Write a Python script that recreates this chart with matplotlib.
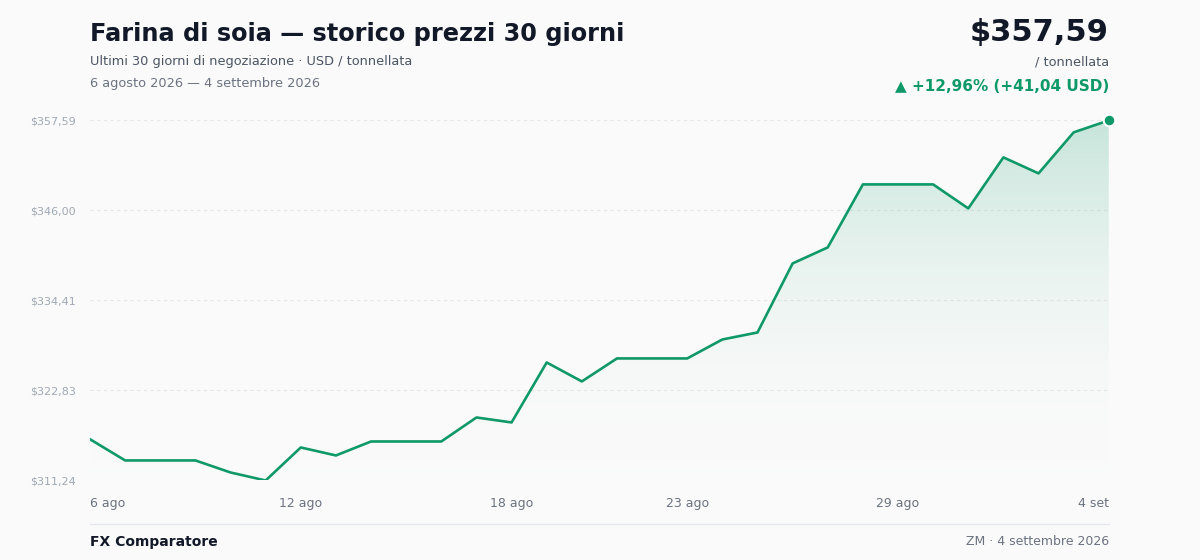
import numpy as np
import matplotlib.pyplot as plt
from matplotlib.colors import LinearSegmentedColormap

prices = [316.55, 313.82, 313.82, 313.82, 312.27, 311.24, 315.49, 314.46, 316.26, 316.26,
          316.26, 319.35, 318.71, 326.43, 323.99, 326.95, 326.95, 326.95, 329.39, 330.29,
          339.18, 341.24, 349.35, 349.35, 349.35, 346.26, 352.83, 350.77, 356.05, 357.59]
tick_idx = [0, 6, 12, 17, 23, 29]
tick_labels = ["6 ago", "12 ago", "18 ago", "23 ago", "29 ago", "4 set"]
y_ticks = [311.24, 322.83, 334.41, 346.00, 357.59]

green = "#0f9968"
bg = "#fafafa"

fig = plt.figure(figsize=(12, 5.6), dpi=100, facecolor=bg)
ax = fig.add_axes([0.075, 0.142, 0.849, 0.643], facecolor=bg)
x = np.arange(len(prices))
ymin, ymax = y_ticks[0], y_ticks[-1]
ax.set_xlim(0, len(prices) - 1)
ax.set_ylim(ymin, ymax)

# gradient fill under the line
grad = LinearSegmentedColormap.from_list("g", [(1, 1, 1, 0), (0.06, 0.6, 0.41, 0.22)])
im = ax.imshow(np.linspace(0.05, 1, 256).reshape(-1, 1), cmap=grad, aspect="auto",
               extent=[0, len(prices) - 1, ymin, ymax], origin="lower", zorder=1)
poly = ax.fill_between(x, prices, ymin, color="none")
im.set_clip_path(poly.get_paths()[0], transform=ax.transData)

ax.plot(x, prices, color=green, lw=1.9, zorder=3)
ax.scatter([x[-1]], [prices[-1]], s=70, color=green, edgecolor="white", lw=1.5, zorder=4, clip_on=False)

for v in y_ticks:
    ax.axhline(v, color="#e6e6e6", lw=0.8, ls=(0, (3, 3)), zorder=0)
ax.set_yticks(y_ticks)
ax.set_yticklabels(["$" + f"{v:.2f}".replace(".", ",") for v in y_ticks], fontsize=8, color="#a0a8b4")
ax.tick_params(axis="y", length=0, pad=10)
ax.set_xticks(tick_idx)
ax.set_xticklabels(tick_labels, fontsize=9, color="#6b7280")
ax.tick_params(axis="x", length=0, pad=12)
xl = ax.get_xticklabels()
xl[0].set_horizontalalignment("left")
xl[-1].set_horizontalalignment("right")
for s in ax.spines.values():
    s.set_visible(False)

fig.text(0.075, 0.94, "Farina di soia — storico prezzi 30 giorni", fontsize=17.3, fontweight="bold", color="#111827", va="center")
fig.text(0.075, 0.89, "Ultimi 30 giorni di negoziazione · USD / tonnellata", fontsize=9.3, color="#4b5563", va="center")
fig.text(0.075, 0.851, "6 agosto 2026 — 4 settembre 2026", fontsize=9.3, color="#6b7280", va="center")
fig.text(0.924, 0.942, "$357,59", fontsize=22, fontweight="bold", color="#111827", va="center", ha="right")
fig.text(0.924, 0.89, "/ tonnellata", fontsize=9.3, color="#4b5563", va="center", ha="right")
fig.text(0.924, 0.845, "▲ +12,96% (+41,04 USD)", fontsize=11, fontweight="bold", color=green, va="center", ha="right")

fig.add_artist(plt.Line2D([0.075, 0.924], [0.065, 0.065], color="#e5e7eb", lw=1))
fig.text(0.075, 0.033, "FX Comparatore", fontsize=10, fontweight="bold", color="#111827", va="center")
fig.text(0.924, 0.033, "ZM · 4 settembre 2026", fontsize=9, color="#6b7280", va="center", ha="right")

fig.savefig("out.png", dpi=100, facecolor=bg)
